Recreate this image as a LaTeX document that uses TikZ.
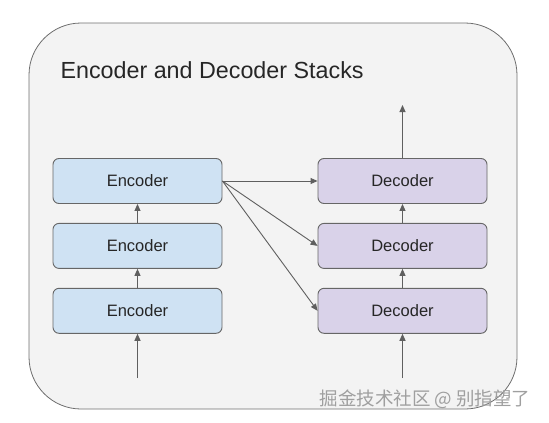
\documentclass[tikz,border=0pt]{standalone}
\usepackage{fontspec}
\setmainfont{Liberation Sans}
\newfontfamily\cjk{Noto Sans CJK SC}
\usetikzlibrary{positioning,arrows.meta}

\definecolor{panelbg}{HTML}{F3F3F3}
\definecolor{panelline}{HTML}{6E6E6E}
\definecolor{encfill}{HTML}{CFE2F3}
\definecolor{decfill}{HTML}{D9D2E9}
\definecolor{boxline}{HTML}{666666}
\definecolor{arrowgray}{HTML}{5F5F5F}

\tikzset{
  stackbox/.style={draw=boxline,line width=0.9pt,rounded corners=6pt,
    minimum width=169pt,minimum height=45pt,inner sep=0pt,
    font=\fontsize{16.5}{18}\selectfont,text=black!85},
  encbox/.style={stackbox,fill=encfill},
  decbox/.style={stackbox,fill=decfill},
  flow/.style={draw=arrowgray,line width=0.9pt,
    -{Triangle[length=7pt,width=6pt]}}
}

\begin{document}
\begin{tikzpicture}[x=1pt,y=1pt]
\useasboundingbox (0,0) rectangle (549,-423);

% Rahmen
\draw[panelline,fill=panelbg,line width=0.8pt,rounded corners=52pt]
  (29,-23) rectangle (517,-409);

% Titel
\node[anchor=west,font=\fontsize{23.3}{27}\selectfont,text=black!85]
  (title) at (57,-70) {Encoder and Decoder Stacks};

% Encoder
\node[encbox] (enc1) at (137.5,-181) {Encoder};
\node[encbox,below=19pt of enc1] (enc2) {Encoder};
\node[encbox,below=19pt of enc2] (enc3) {Encoder};

% Decoder
\node[decbox] (dec1) at (402.5,-181) {Decoder};
\node[decbox,below=19pt of dec1] (dec2) {Decoder};
\node[decbox,below=19pt of dec2] (dec3) {Decoder};

% Ein- und Ausgaenge
\coordinate (encin) at (137.5,-378);
\coordinate (decin) at (402.5,-378);
\coordinate (decout) at (402.5,-105);

\draw[flow] (encin) -- (enc3);
\draw[flow] (enc3) -- (enc2);
\draw[flow] (enc2) -- (enc1);

\draw[flow] (decin) -- (dec3);
\draw[flow] (dec3) -- (dec2);
\draw[flow] (dec2) -- (dec1);
\draw[flow] (dec1) -- (decout);

% Encoder -> Decoder
\draw[flow] (enc1.east) -- (dec1.west);
\draw[flow] (enc1.east) -- (dec2.west);
\draw[flow] (enc1.east) -- (dec3.west);

% Wasserzeichen
\node[anchor=east,font=\cjk\fontsize{18.5}{20}\selectfont,text=gray!75]
  (mark) at (534,-399) {掘金技术社区 @ 别指望了};

\end{tikzpicture}
\end{document}
